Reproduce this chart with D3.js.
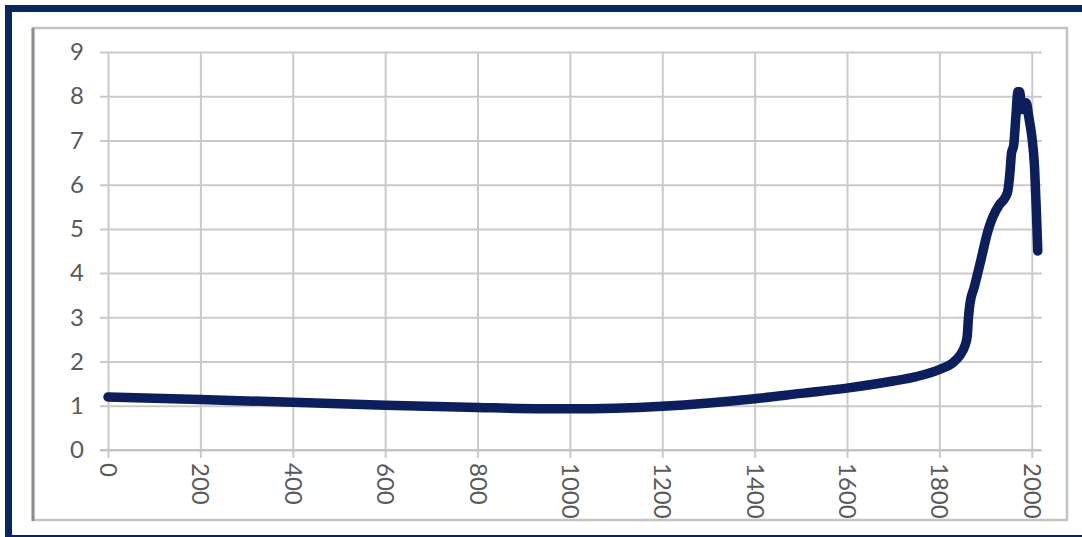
<!DOCTYPE html>
<html><head><meta charset="utf-8">
<script src="https://cdn.jsdelivr.net/npm/d3@7"></script>
<style>html,body{margin:0;padding:0;background:#fff;}svg{display:block;}</style>
</head><body>
<script>
const years = [0, 200, 400, 600, 800, 1000, 1200, 1400, 1500, 1600, 1700, 1750, 1800, 1830, 1845, 1855, 1860, 1863, 1866, 1876, 1890, 1905, 1915, 1930, 1942, 1948, 1953, 1956, 1961, 1966, 1970, 1974, 1978, 1982, 1988, 1994, 2000, 2006, 2010, 2013];
const values = [1.2, 1.14, 1.08, 1.01, 0.96, 0.93, 0.99, 1.16, 1.28, 1.4, 1.56, 1.66, 1.82, 1.98, 2.15, 2.35, 2.55, 3.0, 3.3, 3.7, 4.3, 4.95, 5.25, 5.55, 5.7, 5.85, 6.3, 6.7, 6.9, 7.6, 8.1, 8.1, 7.7, 7.7, 7.85, 7.5, 7.1, 6.4, 5.4, 4.5];
const xTicks = [0, 200, 400, 600, 800, 1000, 1200, 1400, 1600, 1800, 2000];
const yTicks = [0, 1, 2, 3, 4, 5, 6, 7, 8, 9];

const W = 1082, H = 537;
const svg = d3.select("body").append("svg").attr("width", W).attr("height", H);

// outer navy frame
svg.append("rect").attr("x", 0).attr("y", 0).attr("width", W).attr("height", H).attr("fill", "#fff");
svg.append("rect").attr("x", 5).attr("y", 5).attr("width", W).attr("height", 7).attr("fill", "#0b2463");
svg.append("rect").attr("x", 5).attr("y", 5).attr("width", 7).attr("height", H).attr("fill", "#0b2463");
svg.append("rect").attr("x", 5).attr("y", 535).attr("width", W).attr("height", 2).attr("fill", "#0b2463");

// inner chart frame
svg.append("rect").attr("x", 33).attr("y", 28).attr("width", 1034).attr("height", 492)
  .attr("fill", "#fff").attr("stroke", "#c4c4c4").attr("stroke-width", 2.5);
svg.append("line").attr("x1", 33).attr("x2", 33).attr("y1", 28).attr("y2", 521)
  .attr("stroke", "#8c8c8c").attr("stroke-width", 3);

const x = d3.scaleLinear().domain([0, 2020]).range([108, 1041]);
const y = d3.scaleLinear().domain([0, 9]).range([450, 52]);

const grid = "#cacaca";
const yAxis = svg.append("g").attr("transform", "translate(108,0)")
  .call(d3.axisLeft(y).tickValues(yTicks).tickSize(8).tickPadding(16));
yAxis.select(".domain").remove();
yAxis.selectAll(".tick line").attr("x2", x(2020) - 108 + 1).attr("x1", -8)
  .attr("stroke", grid).attr("stroke-width", 2);
yAxis.selectAll(".tick text").attr("fill", "#5a5a5a").attr("font-size", 24)
  .attr("font-family", "Lato, 'Liberation Sans', sans-serif").attr("x", -24);

const xAxis = svg.append("g").attr("transform", "translate(0,450)")
  .call(d3.axisBottom(x).tickValues(xTicks).tickFormat(d3.format("d")).tickSize(8));
xAxis.select(".domain").remove();
xAxis.selectAll(".tick line").attr("y1", -(450 - 52)).attr("y2", 8)
  .attr("stroke", grid).attr("stroke-width", 2);
xAxis.selectAll(".tick text").attr("fill", "#5a5a5a").attr("font-size", 24)
  .attr("font-family", "Lato, 'Liberation Sans', sans-serif")
  .attr("transform", "rotate(90)").attr("x", 13).attr("y", 0).attr("dy", "0.35em")
  .attr("text-anchor", "start");

svg.append("line").attr("x1", 100).attr("x2", x(2020)).attr("y1", y(0)).attr("y2", y(0))
  .attr("stroke", "#c4c4c4").attr("stroke-width", 2);

const data = years.map((d, i) => ({yr: d, v: values[i]}));
svg.append("path").datum(data)
  .attr("fill", "none").attr("stroke", "#0c1f5c").attr("stroke-width", 9.5)
  .attr("stroke-linecap", "round").attr("stroke-linejoin", "round")
  .attr("d", d3.line().x(d => x(d.yr)).y(d => y(d.v)).curve(d3.curveMonotoneX));
</script>
</body></html>
